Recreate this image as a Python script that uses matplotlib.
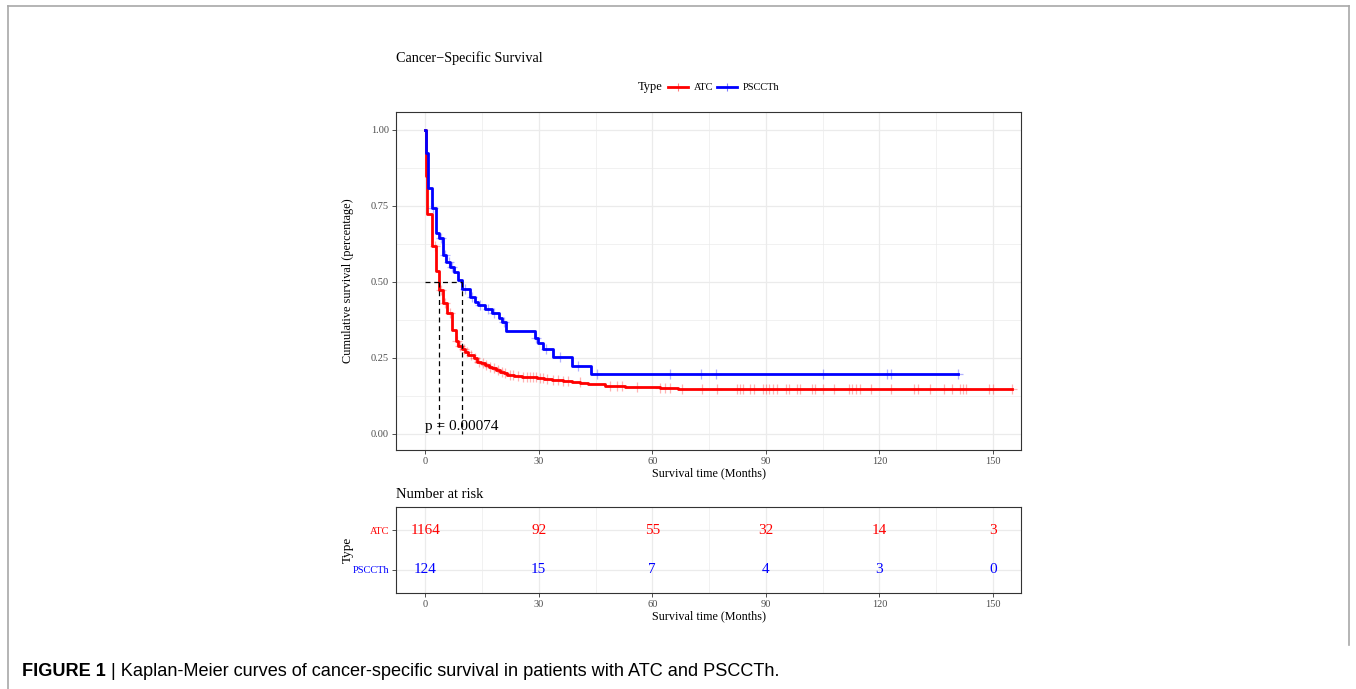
import matplotlib
matplotlib.use("Agg")
import matplotlib.pyplot as plt
import numpy as np
from matplotlib.lines import Line2D
from matplotlib.ticker import MultipleLocator

plt.rcParams['font.family'] = ['Liberation Serif', 'DejaVu Serif']

W, H = 1356, 689

# ---------------- data ----------------
groups = ["ATC", "PSCCTh"]
group_colors = ["#FF0000", "#0000FF"]

atc_time = [0, 0.2, 0.6, 1.8, 2.9, 3.7, 4.6, 5.9, 7.0, 8.1, 8.6, 9.7, 10.5, 11.4,
            12.8, 13.6, 14.7, 15.8, 16.8, 17.6, 18.7, 19.8, 20.8, 21.6, 23.5, 25.5,
            29.5, 31.5, 33.5, 36.5, 38.7, 41.0, 43.0, 47.6, 52.8, 62.0, 66.9]
atc_surv = [1.0, 0.849, 0.723, 0.618, 0.537, 0.474, 0.430, 0.397, 0.342, 0.304, 0.290,
            0.279, 0.270, 0.260, 0.249, 0.238, 0.232, 0.227, 0.221, 0.216, 0.210, 0.204,
            0.199, 0.194, 0.190, 0.187, 0.183, 0.180, 0.177, 0.174, 0.170, 0.166, 0.164,
            0.159, 0.153, 0.150, 0.147]
atc_end = 155.0
atc_censor = [2.5, 4.1, 5.2, 6.5, 8.3, 9.2, 10.2, 11.0, 12.0, 13.2, 14.2, 15.2, 16.2,
              17.2, 18.2, 19.2, 20.2, 21.2, 22.5, 23.2, 24.5, 25.8, 26.8, 27.6, 28.5,
              29.3, 30.3, 31.2, 32.2, 33.9, 35.2, 36.5, 37.8, 40.9, 48.8, 50.6, 51.9,
              55.9, 62.0, 63.4, 64.7, 67.8, 73.1, 77.0, 82.3, 83.2, 84.0, 85.8, 86.9,
              89.2, 90.0, 90.9, 91.8, 92.9, 95.3, 96.2, 98.1, 99.0, 102.1, 103.0, 105.2,
              108.0, 112.0, 112.8, 113.8, 114.9, 117.9, 123.0, 129.2, 130.1, 133.4,
              137.1, 139.1, 141.3, 142.2, 143.0, 149.0, 150.1, 154.9]

ps_time = [0, 0.3, 0.8, 1.7, 2.8, 3.7, 4.8, 5.6, 6.6, 7.6, 8.8, 9.7, 11.9, 13.2, 14.0,
           15.8, 17.6, 19.5, 20.3, 21.4, 28.9, 29.9, 31.1, 33.7, 38.7, 43.8]
ps_surv = [1.0, 0.924, 0.810, 0.743, 0.662, 0.645, 0.589, 0.567, 0.548, 0.532, 0.506,
           0.476, 0.452, 0.435, 0.424, 0.410, 0.397, 0.380, 0.369, 0.339, 0.315, 0.298,
           0.279, 0.252, 0.224, 0.196]
ps_end = 140.8
ps_censor = [2.2, 4.2, 5.2, 6.2, 7.2, 10.5, 12.5, 14.6, 16.5, 18.2, 20.8, 29.3, 32.0,
             35.5, 40.5, 45.5, 64.7, 72.9, 76.8, 105.0, 122.0, 123.0, 140.8]

median_times = [3.7, 9.7]
p_label = "p = 0.00074"

risk_times = [0, 30, 60, 90, 120, 150]
atc_risk = [1164, 92, 55, 32, 14, 3]
ps_risk = [124, 15, 7, 4, 3, 0]

x_ticks = [0, 30, 60, 90, 120, 150]
y_ticks = [0.0, 0.25, 0.5, 0.75, 1.0]
y_ticklabels = ["0.00", "0.25", "0.50", "0.75", "1.00"]

# --------------- helpers ---------------
def fx(px):
    return px / W

def fy(py):
    return 1 - py / H

GRID = "#EBEBEB"
BORDER = "#333333"
TICKLAB = "#4D4D4D"

fig = plt.figure(figsize=(W / 100, H / 100), dpi=100)
fig.patch.set_facecolor("white")

XLIM = (-7.7, 157.4)

# --------------- main KM axes ---------------
ax = fig.add_axes([fx(396), fy(450), fx(1021) - fx(396), fy(112) - fy(450)])
ax.set_xlim(*XLIM)
ax.set_ylim(-0.053, 1.059)
ax.set_xticks(x_ticks)
ax.set_yticks(y_ticks)
ax.set_yticklabels(y_ticklabels)
ax.xaxis.set_minor_locator(MultipleLocator(15))
ax.yaxis.set_minor_locator(MultipleLocator(0.125))
ax.grid(which="major", color=GRID, lw=0.9)
ax.grid(which="minor", color=GRID, lw=0.5)
ax.set_axisbelow(True)
ax.tick_params(which="minor", length=0)
ax.tick_params(which="major", length=3, width=0.6, color=BORDER, labelsize=7.5,
               labelcolor=TICKLAB, pad=2)
for s in ax.spines.values():
    s.set_color(BORDER)
    s.set_linewidth(0.8)

curves = [(atc_time, atc_surv, atc_end, atc_censor),
          (ps_time, ps_surv, ps_end, ps_censor)]
for (t, s, end, cens), col in zip(curves, group_colors):
    tt = np.array(t + [end], dtype=float)
    ss = np.array(s + [s[-1]], dtype=float)
    ax.step(tt, ss, where="post", color=col, lw=2.0, zorder=3)
    ct = np.array(cens, dtype=float)
    idx = np.searchsorted(np.array(t, dtype=float), ct, side="right") - 1
    cy = np.array(s, dtype=float)[idx]
    ax.plot(ct, cy, ls="none", marker="+", ms=7, mew=0.9, color=col, alpha=0.3,
            zorder=4)

# median lines
ax.plot([0, max(median_times)], [0.5, 0.5], ls=(0, (4, 3)), color="black", lw=0.9,
        zorder=5)
for m in median_times:
    ax.plot([m, m], [0.5, 0.0], ls=(0, (4, 3)), color="black", lw=0.9, zorder=5)

ax.text(0, 0.025, p_label, fontsize=11, ha="left", va="center", color="black",
        zorder=6)

ax.set_xlabel("Survival time (Months)", fontsize=8.7, labelpad=1)
ax.set_ylabel("Cumulative survival (percentage)", fontsize=8.8, labelpad=12)

# title
fig.text(fx(396), fy(58), "Cancer\u2212Specific Survival", fontsize=10.3, ha="left",
         va="center")

# legend
fig.text(fx(638), fy(87), "Type", fontsize=9, ha="left", va="center")
leg_items = [(668, 688, 694), (717, 737, 743)]
for (x0, x1, xt), g, col in zip(leg_items, groups, group_colors):
    fig.add_artist(Line2D([fx(x0), fx(x1)], [fy(87), fy(87)], color=col, lw=2.0,
                          transform=fig.transFigure))
    fig.add_artist(Line2D([fx((x0 + x1) / 2)], [fy(87)], color=col, marker="+", ms=6,
                          mew=0.8, alpha=0.5, transform=fig.transFigure))
    fig.text(fx(xt), fy(87), g, fontsize=7.5, ha="left", va="center")

# --------------- risk table ---------------
fig.text(fx(396), fy(494), "Number at risk", fontsize=10.5, ha="left", va="center")

rx = fig.add_axes([fx(396), fy(593), fx(1021) - fx(396), fy(507) - fy(593)])
rx.set_xlim(*XLIM)
rx.set_ylim(0.4, 2.6)
rx.set_xticks(x_ticks)
rx.xaxis.set_minor_locator(MultipleLocator(15))
rx.set_yticks([2, 1])
rx.set_yticklabels(groups)
for lab, col in zip(rx.get_yticklabels(), group_colors):
    lab.set_color(col)
rx.grid(which="major", color=GRID, lw=0.9)
rx.grid(which="minor", axis="x", color=GRID, lw=0.5)
rx.set_axisbelow(True)
rx.tick_params(which="minor", length=0)
rx.tick_params(which="major", length=3, width=0.6, color=BORDER, labelsize=7.5, pad=2)
rx.tick_params(axis="x", labelcolor=TICKLAB)
for s in rx.spines.values():
    s.set_color(BORDER)
    s.set_linewidth(0.8)

for row_y, vals, col in [(2, atc_risk, group_colors[0]), (1, ps_risk, group_colors[1])]:
    for t, v in zip(risk_times, vals):
        rx.text(t, row_y, str(v), fontsize=11, ha="center", va="center", color=col)

rx.set_xlabel("Survival time (Months)", fontsize=8.7, labelpad=1)
rx.set_ylabel("Type", fontsize=9.5, labelpad=-1)

# --------------- frame & caption ---------------
frame_col = "#A8A8A8"
fig.add_artist(Line2D([fx(8), fx(8)], [0, fy(6)], color=frame_col, lw=1.2,
                      transform=fig.transFigure))
fig.add_artist(Line2D([fx(8), fx(1349)], [fy(6), fy(6)], color=frame_col, lw=1.2,
                      transform=fig.transFigure))
fig.add_artist(Line2D([fx(1349), fx(1349)], [fy(6), fy(645)], color=frame_col, lw=1.2,
                      transform=fig.transFigure))

cap_font = ['Liberation Sans', 'DejaVu Sans']
t1 = fig.text(fx(22), fy(672), "FIGURE 1", fontsize=13.1, fontweight="bold",
              family=cap_font, ha="left", va="center")
fig.canvas.draw()
r = fig.canvas.get_renderer()
bb = t1.get_window_extent(renderer=r)
fig.text(bb.x1 / W, fy(672),
         " | Kaplan-Meier curves of cancer-specific survival in patients with ATC and PSCCTh.",
         fontsize=13.1, family=cap_font, ha="left", va="center")

fig.savefig("out.png", dpi=100)
